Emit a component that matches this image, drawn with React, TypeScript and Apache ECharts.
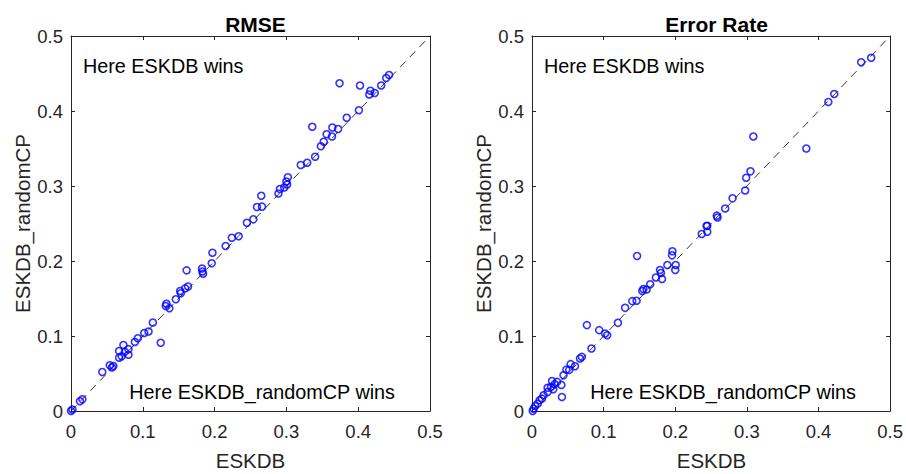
import React, { useEffect, useRef } from "react";
import * as echarts from "echarts";

const titles = ["RMSE", "Error Rate"];
const xLabel = "ESKDB";
const yLabel = "ESKDB_randomCP";
const upperText = "Here ESKDB wins";
const lowerText = "Here ESKDB_randomCP wins";
const tickValues = [0, 0.1, 0.2, 0.3, 0.4, 0.5];

const rmseX = [
  0.374, 0.4025, 0.443, 0.439, 0.432, 0.417, 0.423, 0.4155, 0.401, 0.384,
  0.336, 0.364, 0.372, 0.356, 0.3635, 0.352, 0.348, 0.34, 0.329, 0.32,
  0.302, 0.3, 0.301, 0.297, 0.291, 0.289, 0.265, 0.259, 0.266, 0.254,
  0.245, 0.2335, 0.224, 0.2154, 0.197, 0.196, 0.161, 0.1825, 0.183, 0.184,
  0.163, 0.159, 0.152, 0.153, 0.146, 0.133, 0.132, 0.137, 0.114, 0.125,
  0.108, 0.102, 0.093, 0.089, 0.073, 0.067, 0.08, 0.075, 0.0706, 0.08,
  0.067, 0.054, 0.059, 0.057, 0.0436, 0.0158, 0.0125, 0.002, 0.0,
];
const rmseY = [
  0.437, 0.434, 0.448, 0.444, 0.434, 0.427, 0.424, 0.422, 0.401, 0.391,
  0.379, 0.378, 0.376, 0.369, 0.366, 0.359, 0.353, 0.339, 0.331, 0.328,
  0.3116, 0.306, 0.302, 0.298, 0.296, 0.29, 0.287, 0.272, 0.2724, 0.2556,
  0.251, 0.233, 0.231, 0.22, 0.211, 0.197, 0.1875, 0.19, 0.186, 0.183,
  0.166, 0.1635, 0.16, 0.157, 0.149, 0.143, 0.14, 0.137, 0.118, 0.091,
  0.106, 0.104, 0.097, 0.092, 0.088, 0.08, 0.0824, 0.079, 0.073, 0.075,
  0.071, 0.061, 0.06, 0.058, 0.052, 0.0156, 0.013, 0.002, 0.0,
];

const errX = [
  0.4735, 0.4596, 0.422, 0.4137, 0.309, 0.383, 0.305, 0.299, 0.2976, 0.28,
  0.2697, 0.258, 0.259, 0.2437, 0.2447, 0.237, 0.2447, 0.1467, 0.196, 0.1955,
  0.189, 0.2006, 0.2, 0.1787, 0.18, 0.173, 0.1815, 0.165, 0.16, 0.1555,
  0.154, 0.146, 0.14, 0.13, 0.12, 0.0766, 0.0938, 0.102, 0.105, 0.083,
  0.0696, 0.067, 0.06, 0.054, 0.052, 0.048, 0.044, 0.0418, 0.041, 0.035,
  0.028, 0.0316, 0.0218, 0.0265, 0.0297, 0.0218, 0.0162, 0.0139, 0.0107, 0.0079,
  0.0046, 0.0023, 0.001,
];
const errY = [
  0.471, 0.465, 0.4227, 0.412, 0.366, 0.35, 0.3196, 0.311, 0.294, 0.2836,
  0.27, 0.2604, 0.258, 0.2467, 0.247, 0.236, 0.239, 0.2067, 0.213, 0.2076,
  0.1947, 0.1947, 0.188, 0.188, 0.184, 0.178, 0.176, 0.169, 0.162, 0.1626,
  0.16, 0.147, 0.1465, 0.1376, 0.1176, 0.1145, 0.1078, 0.1033, 0.101, 0.0833,
  0.0722, 0.07, 0.0597, 0.0624, 0.0548, 0.0552, 0.0477, 0.0187, 0.0347, 0.0388,
  0.04, 0.0356, 0.031, 0.032, 0.029, 0.0254, 0.021, 0.0165, 0.0143, 0.0098,
  0.0067, 0.0031, 0.0,
];

const FONT = "Liberation Sans, Arial, sans-serif";
const AX = "#262626";

const grids = [
  { left: 71, top: 36, width: 359, height: 375 },
  { left: 532, top: 36, width: 359, height: 375 },
];

export default function App() {
  const ref = useRef<HTMLDivElement>(null);
  useEffect(() => {
    if (!ref.current) return;
    const chart = echarts.init(ref.current, null, { renderer: "svg" });
    const fmt = (v: number) => String(+Number(v).toFixed(1));
    const xAxes: any[] = [];
    const yAxes: any[] = [];
    grids.forEach((g, gi) => {
      ["bottom", "top"].forEach((pos) => {
        xAxes.push({
          type: "value",
          gridIndex: gi,
          position: pos,
          min: 0,
          max: 0.5,
          interval: 0.1,
          axisLine: { show: true, onZero: false, lineStyle: { color: AX, width: 1 } },
          axisTick: { show: true, inside: true, length: 4, lineStyle: { color: AX } },
          axisLabel: {
            show: pos === "bottom",
            formatter: fmt,
            color: AX,
            fontSize: 18.5,
            fontFamily: FONT,
            margin: 11,
          },
          splitLine: { show: false },
        });
      });
      ["left", "right"].forEach((pos) => {
        yAxes.push({
          type: "value",
          gridIndex: gi,
          position: pos,
          min: 0,
          max: 0.5,
          interval: 0.1,
          axisLine: { show: true, onZero: false, lineStyle: { color: AX, width: 1 } },
          axisTick: { show: true, inside: true, length: 4, lineStyle: { color: AX } },
          axisLabel: {
            show: pos === "left",
            formatter: fmt,
            color: AX,
            fontSize: 18.5,
            fontFamily: FONT,
            margin: 8,
          },
          splitLine: { show: false },
        });
      });
    });

    const datasets = [
      { x: rmseX, y: rmseY },
      { x: errX, y: errY },
    ];
    const series: any[] = [];
    datasets.forEach((d, gi) => {
      series.push({
        type: "line",
        xAxisIndex: gi * 2,
        yAxisIndex: gi * 2,
        data: [
          [tickValues[0], tickValues[0]],
          [tickValues[5], tickValues[5]],
        ],
        symbol: "none",
        lineStyle: { color: "#000", width: 0.8, type: [8, 6] },
        z: 1,
        silent: true,
      });
      series.push({
        type: "scatter",
        xAxisIndex: gi * 2,
        yAxisIndex: gi * 2,
        data: d.x.map((v, i) => [v, d.y[i]]),
        symbol: "circle",
        symbolSize: 7,
        itemStyle: { color: "rgba(0,0,0,0)", borderColor: "#0000ff", borderWidth: 1.6 },
        z: 2,
      });
    });

    const graphic: any[] = [];
    grids.forEach((g) => {
      graphic.push({
        type: "text",
        x: g.left + g.width / 2,
        y: 460,
        style: {
          text: xLabel,
          fontSize: 20.5,
          fontFamily: FONT,
          fill: AX,
          align: "center",
          verticalAlign: "middle",
        },
      });
      graphic.push({
        type: "text",
        x: g.left - 49,
        y: g.top + g.height / 2,
        rotation: Math.PI / 2,
        style: {
          text: yLabel,
          fontSize: 20.5,
          fontFamily: FONT,
          fill: AX,
          align: "center",
          verticalAlign: "middle",
        },
      });
      graphic.push({
        type: "text",
        x: g.left + 12,
        y: 66,
        style: {
          text: upperText,
          fontSize: 19.8,
          fontFamily: FONT,
          fill: "#000",
          align: "left",
          verticalAlign: "middle",
        },
      });
      graphic.push({
        type: "text",
        x: g.left + g.width - 35,
        y: 392,
        style: {
          text: lowerText,
          fontSize: 19.8,
          fontFamily: FONT,
          fill: "#000",
          align: "right",
          verticalAlign: "middle",
        },
      });
    });

    chart.setOption({
      animation: false,
      backgroundColor: "#fff",
      title: grids.map((g, i) => ({
        text: titles[i],
        left: g.left + g.width / 2,
        top: 9,
        textAlign: "center",
        textStyle: { fontSize: 21, fontWeight: "bold", fontFamily: FONT, color: "#000" },
      })),
      grid: grids,
      xAxis: xAxes,
      yAxis: yAxes,
      series,
      graphic,
    });
    return () => chart.dispose();
  }, []);
  return <div ref={ref} style={{ width: 906, height: 474, position: "absolute", left: 0, top: 0 }} />;
}
